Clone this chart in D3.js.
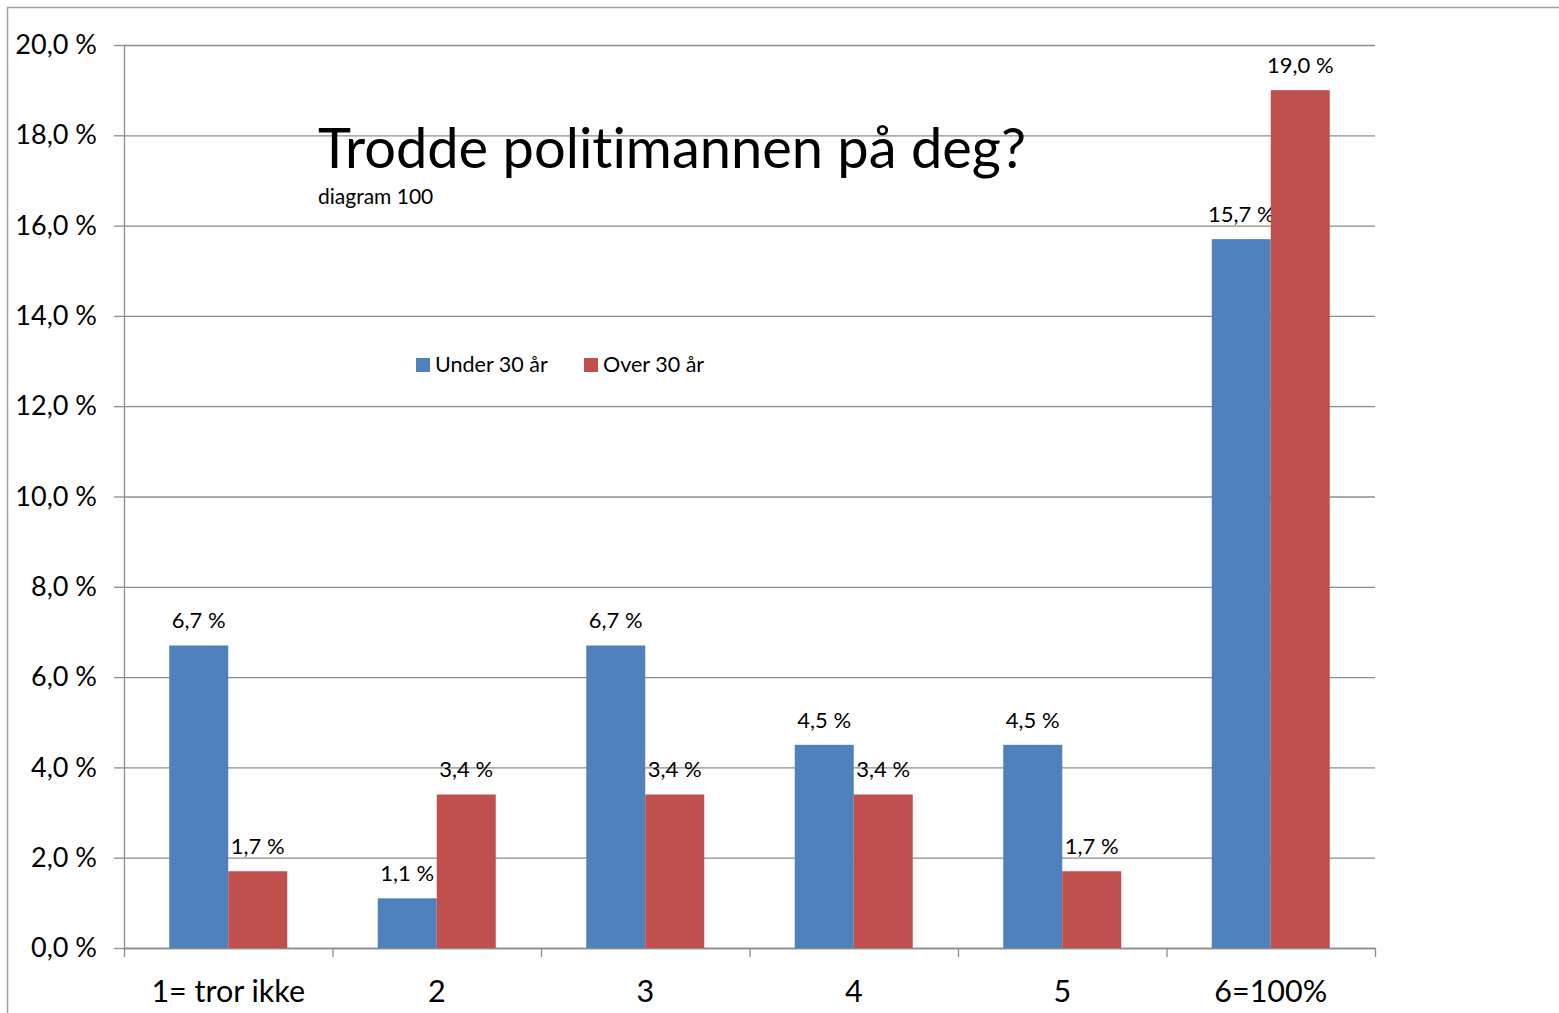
<!DOCTYPE html>
<html>
<head>
<meta charset="utf-8">
<script src="https://cdn.jsdelivr.net/npm/d3@7"></script>
<style>
  body { margin: 0; background: #fff; }
  text { font-family: Lato, "Open Sans", sans-serif; fill: #000; font-variant-ligatures: none; }
</style>
</head>
<body>
<div id="chart"></div>
<script>
// data
var categories = ["1= tror ikke", "2", "3", "4", "5", "6=100%"];
var seriesNames = ["Under 30 år", "Over 30 år"];
var under30 = [6.7, 1.1, 6.7, 4.5, 4.5, 15.7];
var over30 = [1.7, 3.4, 3.4, 3.4, 1.7, 19.0];
var yTicks = [0, 2, 4, 6, 8, 10, 12, 14, 16, 18, 20];
var colors = ["#4F81BD", "#C0504D"];

var W = 1559, H = 1013;
var margin = { top: 45, right: 184, bottom: 65, left: 124 },
    width = W - margin.left - margin.right,
    height = H - margin.top - margin.bottom;

var fmt = function (v) { return v.toFixed(1).replace(".", ",") + " %"; };

var root = d3.select("#chart")
    .append("svg")
    .attr("width", W)
    .attr("height", H);

// outer frame (only top and left edge visible)
root.append("path")
    .attr("d", "M7.5," + H + "V7.5H" + W)
    .attr("fill", "none")
    .attr("stroke", "#a0a0a0")
    .attr("stroke-width", 1.5);

var svg = root.append("g")
    .attr("transform", "translate(" + margin.left + "," + margin.top + ")");

var yScale = d3.scaleLinear().domain([0, 20]).range([height, 0]);
var xBand = d3.scaleBand().domain(categories).range([0, width]).paddingInner(0).paddingOuter(0);
var xEdges = d3.scaleLinear().domain([0, categories.length]).range([0, width]);

// gridlines
svg.append("g")
    .attr("class", "grid")
    .call(d3.axisLeft(yScale).tickValues(yTicks).tickSize(-width).tickFormat(""))
    .call(function (g) { g.select(".domain").remove(); })
    .call(function (g) { g.selectAll("line").attr("stroke", "#8c8c8c").attr("stroke-width", 1.3); });

// y axis with labels
svg.append("g")
    .call(d3.axisLeft(yScale).tickValues(yTicks).tickSize(10).tickPadding(17).tickSizeOuter(0)
        .tickFormat(fmt))
    .call(function (g) {
        g.select(".domain").attr("stroke", "#8c8c8c").attr("stroke-width", 1.3);
        g.selectAll("line").attr("stroke", "#8c8c8c").attr("stroke-width", 1.3);
        g.selectAll("text").style("font-size", "27px").attr("fill", "#000");
    });

// x axis tick marks at category edges
svg.append("g")
    .attr("transform", "translate(0," + height + ")")
    .call(d3.axisBottom(xEdges).tickValues(d3.range(0, categories.length + 1)).tickSize(9).tickSizeOuter(0).tickFormat(""))
    .call(function (g) {
        g.select(".domain").attr("stroke", "#8c8c8c").attr("stroke-width", 1.3);
        g.selectAll("line").attr("stroke", "#8c8c8c").attr("stroke-width", 1.3);
    });

// category labels
svg.append("g")
    .attr("transform", "translate(0," + height + ")")
    .call(d3.axisBottom(xBand).tickSize(0).tickPadding(32))
    .call(function (g) {
        g.select(".domain").remove();
        g.selectAll("text").style("font-size", "30.5px").attr("fill", "#000");
    });

// bars
var barW = 59;
var groups = svg.selectAll(".cat")
    .data(categories)
    .enter().append("g")
    .attr("transform", function (d) { return "translate(" + (xBand(d) + xBand.bandwidth() / 2) + ",0)"; });

[under30, over30].forEach(function (series, si) {
    groups.append("rect")
        .attr("x", si === 0 ? -barW : 0)
        .attr("width", barW)
        .attr("y", function (d, i) { return yScale(series[i]); })
        .attr("height", function (d, i) { return height - yScale(series[i]); })
        .attr("fill", colors[si]);

    groups.append("text")
        .attr("x", si === 0 ? -barW / 2 : barW / 2)
        .attr("y", function (d, i) { return yScale(series[i]) - 17; })
        .attr("text-anchor", "middle")
        .style("font-size", "22px")
        .text(function (d, i) { return fmt(series[i]); });
});

// title
svg.append("text")
    .attr("x", 318 - margin.left)
    .attr("y", 168 - margin.top)
    .style("font-size", "56px")
    .text("Trodde politimannen på deg?");

svg.append("text")
    .attr("x", 318 - margin.left)
    .attr("y", 204 - margin.top)
    .style("font-size", "21px")
    .text("diagram 100");

// legend
var legendX = [416, 584];
seriesNames.forEach(function (name, i) {
    var lg = svg.append("g")
        .attr("transform", "translate(" + (legendX[i] - margin.left) + "," + (358 - margin.top) + ")");
    lg.append("rect").attr("width", 14).attr("height", 14).attr("fill", colors[i]);
    lg.append("text").attr("x", 19).attr("y", 14).style("font-size", "21.5px").text(name);
});
</script>
</body>
</html>
